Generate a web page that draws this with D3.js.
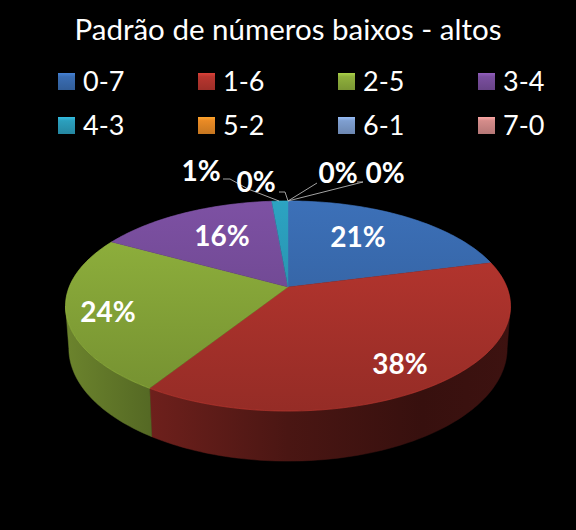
<!DOCTYPE html>
<html>
<head>
<meta charset="utf-8">
<script src="https://cdn.jsdelivr.net/npm/d3@7"></script>
<style>
    html, body { margin: 0; padding: 0; background: #000; }
    svg { display: block; }
    text { font-family: Lato, "Open Sans", sans-serif; fill: #fff; }
</style>
</head>
<body>
<svg id="chart" width="576" height="530"></svg>
<script>
const titleText = "Padrão de números baixos - altos";
const categories = ["0-7", "1-6", "2-5", "3-4", "4-3", "5-2", "6-1", "7-0"];
const values = [21, 38, 24, 15.6, 1.4, 0, 0, 0];
const colors = ["#3a6db3", "#b8362f", "#8fb03c", "#7a4f9f", "#2b9fbd", "#e98a25", "#7f9fd0", "#d48c8a"];

// where the labels sit; the small slices have leader lines with an elbow
const labelPos = [[358, 236], [400, 363], [108, 311], [222, 235], [201, 170], [256, 181], [338, 172], [385, 172]];
const leaderElbows = [null, null, null, null,
    [[248, 189], [230, 179], [223, 179]],
    [[285, 192], [279, 192]],
    [[317, 183]],
    [[363, 182], [357, 182]]];

const svg = d3.select("#chart");
const defs = svg.append("defs");

// Pie is seen in perspective: the back of the disc is further away than the front
const cx = 288, cy = 287;
const rimX = 218.8, rimY = 101.6, persp = 0.181;
const depth = 41, bottomScale = 0.985;

function project(a, r, low) {
    let w = 1 + persp * Math.cos(a) * r;
    let s = low ? bottomScale : 1;
    return [
        cx + s * rimX * r * Math.sin(a) / w,
        cy - rimY * r * Math.cos(a) / w + (low ? depth / w : 0)
    ];
}

function arcPoints(a0, a1, low) {
    let n = Math.max(2, Math.ceil((a1 - a0) / 0.02));
    return d3.range(n + 1).map(i => project(a0 + (a1 - a0) * i / n, 1, low));
}

function shade(color, k) {
    return d3.rgb(color).darker(k).formatHex();
}

function addGradient(id, stops, x1, x2, y1, y2) {
    let g = defs.append("linearGradient").attr("id", id)
        .attr("gradientUnits", "userSpaceOnUse")
        .attr("x1", x1).attr("x2", x2).attr("y1", y1).attr("y2", y2);
    stops.forEach(s => g.append("stop").attr("offset", s[0]).attr("stop-color", s[1]));
}

const slices = d3.pie().sort(null).value(d => d)(values);
const line = d3.line();

// Side wall, only the part that faces the viewer
const sideFrom = Math.acos(-persp), sideTo = 2 * Math.PI - sideFrom;
const sideX = d3.scaleLinear().domain([0, 1]).range([cx - rimX * 1.02, cx + rimX * 1.02]);

const sideStops = [
    [0, 0.8], [0.19, 1.45], [0.5, 2.55], [0.8, 3.4], [1, 3.1]
];
slices.forEach((d, i) => {
    let a0 = Math.max(d.startAngle, sideFrom), a1 = Math.min(d.endAngle, sideTo);
    if (a1 <= a0) return;
    addGradient("side" + i, sideStops.map(s => [s[0], shade(colors[i], s[1])]),
        sideX(0), sideX(1), 0, 0);
    let pts = arcPoints(a0, a1, false).concat(arcPoints(a0, a1, true).reverse());
    svg.append("path")
        .attr("d", line(pts) + "Z")
        .attr("fill", "url(#side" + i + ")")
        .attr("stroke", "url(#side" + i + ")")
        .attr("stroke-width", 0.5);
});

// Top face
slices.forEach((d, i) => {
    if (d.endAngle <= d.startAngle) return;
    addGradient("top" + i, [[0, d3.rgb(colors[i]).brighter(0.12).formatHex()], [1, shade(colors[i], 0.6)]],
        0, 0, cy - rimY, cy + rimY * 1.22);
    let pts = [[cx, cy]].concat(arcPoints(d.startAngle, d.endAngle, false));
    svg.append("path")
        .attr("d", line(pts) + "Z")
        .attr("fill", "url(#top" + i + ")")
        .attr("stroke", "url(#top" + i + ")")
        .attr("stroke-width", 0.4);
    // thin light bevel on the rim
    svg.append("path")
        .attr("d", line(arcPoints(d.startAngle, d.endAngle, false)))
        .attr("fill", "none")
        .attr("stroke", d3.rgb(colors[i]).brighter(0.5).formatHex())
        .attr("stroke-opacity", 0.45)
        .attr("stroke-width", 0.8);
});

// Leader lines for the tiny slices
slices.forEach((d, i) => {
    let elbow = leaderElbows[i];
    if (!elbow) return;
    let start = i === 4 ? project(d.startAngle + 0.04, 1, false) : project(d.endAngle, 1, false);
    svg.append("path")
        .attr("d", line([start].concat(elbow)))
        .attr("fill", "none")
        .attr("stroke", "#b4b4b4")
        .attr("stroke-width", 0.9);
});

// Value labels
svg.selectAll("text.value")
    .data(values)
    .enter()
    .append("text")
    .attr("class", "value")
    .attr("x", (d, i) => labelPos[i][0])
    .attr("y", (d, i) => labelPos[i][1])
    .attr("text-anchor", "middle")
    .attr("dominant-baseline", "central")
    .attr("font-size", 28)
    .attr("font-weight", 700)
    .text(d => Math.round(d) + "%");

// Title
svg.append("text")
    .attr("x", 288)
    .attr("y", 40)
    .attr("text-anchor", "middle")
    .attr("font-size", 29.5)
    .text(titleText);

// Legend, four columns by two rows
const legendX = d3.scalePoint().domain(d3.range(4)).range([58, 478]);
const legendY = d3.scalePoint().domain(d3.range(2)).range([73, 117]);

let legend = svg.selectAll("g.legend")
    .data(categories)
    .enter()
    .append("g")
    .attr("class", "legend")
    .attr("transform", (d, i) => "translate(" + legendX(i % 4) + "," + legendY(Math.floor(i / 4)) + ")");

legend.each(function (d, i) {
    let id = "swatch" + i;
    let g = defs.append("linearGradient").attr("id", id).attr("x1", 0).attr("x2", 0).attr("y1", 0).attr("y2", 1);
    g.append("stop").attr("offset", 0).attr("stop-color", d3.rgb(colors[i]).brighter(0.5).formatHex());
    g.append("stop").attr("offset", 0.22).attr("stop-color", colors[i]);
    g.append("stop").attr("offset", 1).attr("stop-color", shade(colors[i], 0.45));
});

legend.append("rect")
    .attr("width", 17)
    .attr("height", 17)
    .attr("fill", (d, i) => "url(#swatch" + i + ")");

legend.append("text")
    .attr("x", 25)
    .attr("y", 18)
    .attr("font-size", 27)
    .text(d => d);
</script>
</body>
</html>
